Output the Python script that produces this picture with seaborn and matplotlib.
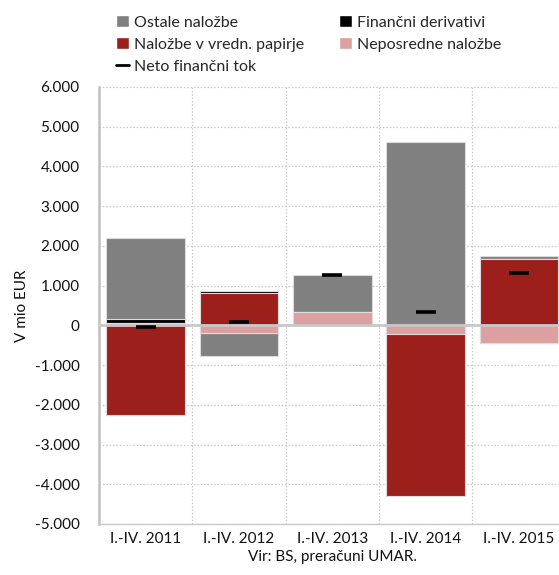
import numpy as np
import pandas as pd
import matplotlib
matplotlib.use("Agg")
import matplotlib.pyplot as plt
from matplotlib.patches import Patch
from matplotlib.lines import Line2D
import seaborn as sns

categories = ["I.-IV. 2011", "I.-IV. 2012", "I.-IV. 2013", "I.-IV. 2014", "I.-IV. 2015"]
neposredne = [65, -185, 326, -220, -445]
vrednostni = [-2254, 820, 0, -4076, 1673]
derivativi = [85, 40, 0, 0, 0]
ostale = [2061, -578, 945, 4623, 75]
neto = [-35, 90, 1264, 334, 1314]

series = [
    ("Neposredne naložbe", neposredne, "#DDA0A0"),
    ("Naložbe v vredn. papirje", vrednostni, "#9C1F1C"),
    ("Finančni derivativi", derivativi, "#000000"),
    ("Ostale naložbe", ostale, "#808080"),
]

sns.set_theme(style="white")
plt.rcParams["font.family"] = ["Lato", "DejaVu Sans"]

fig = plt.figure(figsize=(5.59, 5.75), dpi=100)
ax = fig.add_axes([0.177, 0.0887, 0.835, 0.76])

# cumulative stacks (positives and negatives separately)
pos_cum, neg_cum = [], []
pc = np.zeros(len(categories))
nc = np.zeros(len(categories))
for name, vals, col in series:
    v = np.array(vals, dtype=float)
    pc = pc + np.where(v > 0, v, 0)
    nc = nc + np.where(v < 0, v, 0)
    pos_cum.append(pc.copy())
    neg_cum.append(nc.copy())

for i in range(len(series) - 1, -1, -1):
    name, vals, col = series[i]
    for cum in (pos_cum[i], neg_cum[i]):
        df = pd.DataFrame({"cat": categories, "val": cum})
        sns.barplot(data=df, x="cat", y="val", color=col, saturation=1,
                    width=0.84, edgecolor="#dcdcdc", linewidth=0.8, ax=ax,
                    order=categories, zorder=2)

dfn = pd.DataFrame({"cat": categories, "val": neto})
sns.pointplot(data=dfn, x="cat", y="val", order=categories, color="black",
              linestyle="none", marker="_", markersize=14.5, markeredgewidth=2.6,
              errorbar=None, ax=ax, zorder=5)

ax.set_ylim(-5000, 6000)
ax.set_xlim(-0.5, 4.5)
ax.set_yticks(np.arange(-5000, 6001, 1000))
ax.set_yticklabels([f"{int(t):,}".replace(",", ".") for t in np.arange(-5000, 6001, 1000)])
ax.tick_params(axis="y", labelsize=11, length=0, pad=14, colors="#111111")
ax.tick_params(axis="x", labelsize=11, length=0, pad=6, colors="#111111")

for y in np.arange(-5000, 6001, 1000):
    if y != 0:
        ax.axhline(y, color="#c8c8c8", linestyle=(0, (1.2, 1.5)), linewidth=0.9, zorder=0)
for x in [0.5, 1.5, 2.5, 3.5]:
    ax.axvline(x, color="#c8c8c8", linestyle=(0, (1.2, 1.5)), linewidth=0.9, zorder=0)
ax.axhline(0, color="#c8c8c8", linewidth=2, zorder=3)

for s in ["top", "right"]:
    ax.spines[s].set_visible(False)
ax.spines["left"].set_color("#c0c0c0")
ax.spines["left"].set_linewidth(1.8)
ax.spines["bottom"].set_color("#c8c8c8")
ax.spines["bottom"].set_linewidth(1.0)

ax.set_ylabel("V mio EUR", fontsize=11, color="#111111", labelpad=4)
ax.set_xlabel("Vir: BS, preračuni UMAR.", fontsize=11, color="#111111", labelpad=3)

handles = [
    Patch(facecolor="#808080", label="Ostale naložbe"),
    Patch(facecolor="#9C1F1C", label="Naložbe v vredn. papirje"),
    Line2D([0], [0], color="black", linewidth=2, label="Neto finančni tok"),
    Patch(facecolor="#000000", label="Finančni derivativi"),
    Patch(facecolor="#DDA0A0", label="Neposredne naložbe"),
]
fig.legend(handles=handles, ncol=2, loc="upper left", bbox_to_anchor=(0.188, 0.993),
           frameon=False, fontsize=11.5, handlelength=0.8, handleheight=0.8,
           handletextpad=0.3, columnspacing=2.2, labelspacing=0.45, borderaxespad=0.3)

fig.savefig("out.png", dpi=100)
